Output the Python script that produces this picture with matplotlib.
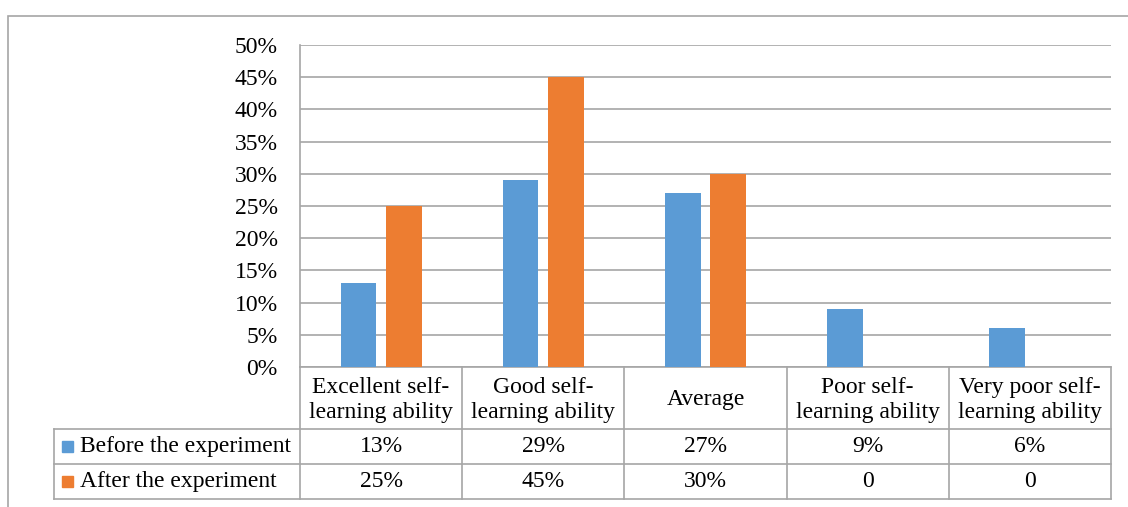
import numpy as np
import matplotlib
matplotlib.use("Agg")
from matplotlib import pyplot as plt
from matplotlib import transforms
from matplotlib.patches import Rectangle

plt.rcParams['font.family'] = ['Liberation Serif', 'DejaVu Serif']

categories = ["Excellent self-\nlearning ability", "Good self-\nlearning ability", "Average",
              "Poor self-\nlearning ability", "Very poor self-\nlearning ability"]
series_names = ["Before the experiment", "After the experiment"]
before = [13, 29, 27, 9, 6]
after = [25, 45, 30, 0, 0]
before_labels = ["13%", "29%", "27%", "9%", "6%"]
after_labels = ["25%", "45%", "30%", "0", "0"]
yticks = [0, 5, 10, 15, 20, 25, 30, 35, 40, 45, 50]

blue = "#5B9BD5"
orange = "#ED7D31"
grid_c = "#A6A6A6"
fs = 17

W, H = 1128, 507
fig = plt.figure(figsize=(W / 100, H / 100), dpi=100)

# outer chart frame
fig.patches.append(Rectangle((8 / W, -0.1), 1.2, (H - 16) / H + 0.1, transform=fig.transFigure,
                             fill=False, edgecolor=grid_c, lw=1.2))

ax = fig.add_axes([300 / W, 140 / H, 811 / W, 322 / H])
x = np.arange(len(categories))
bw = 0.22
ax.bar(x - 0.14, before, bw, color=blue, zorder=3)
ax.bar(x + 0.14, after, bw, color=orange, zorder=3)

ax.set_xlim(-0.5, len(categories) - 0.5)
ax.set_ylim(0, 50)
ax.set_yticks(yticks)
ax.set_yticklabels([f"{v}%" for v in yticks], fontsize=fs)
ax.tick_params(axis='y', length=0, pad=16)
ax.set_xticks([])
ax.yaxis.grid(True, color=grid_c, lw=1.2, zorder=0)
for s in ["top", "right", "bottom"]:
    ax.spines[s].set_visible(False)
ax.spines["left"].set_color(grid_c)
ax.spines["left"].set_linewidth(1.2)

# data table below the axis
tr = transforms.blended_transform_factory(ax.transData, ax.transAxes)
ppu = 811 / len(categories)
x_lab = -0.5 - 246 / ppu
rows_y = [0, -62 / 322, -97 / 322, -132 / 322]
right = len(categories) - 0.5

line_kw = dict(transform=tr, color=grid_c, lw=1.2, clip_on=False)
ax.plot([-0.5, right], [rows_y[0]] * 2, **line_kw)
for yy in rows_y[1:]:
    ax.plot([x_lab, right], [yy] * 2, **line_kw)
for xx in np.arange(-0.5, right + 0.01, 1.0):
    ax.plot([xx, xx], [rows_y[0], rows_y[-1]], **line_kw)
ax.plot([x_lab, x_lab], [rows_y[1], rows_y[-1]], **line_kw)

for i, cat in enumerate(categories):
    ax.text(i, (rows_y[0] + rows_y[1]) / 2 - 2 / 322, cat, transform=tr, ha="center", va="center",
            fontsize=fs, linespacing=1.22, clip_on=False)

for r, (name, color, labels) in enumerate([(series_names[0], blue, before_labels),
                                            (series_names[1], orange, after_labels)]):
    yc = (rows_y[r + 1] + rows_y[r + 2]) / 2
    for i, lab in enumerate(labels):
        ax.text(i, yc, lab, transform=tr, ha="center", va="center", fontsize=fs, clip_on=False)
    ax.text(x_lab + 26 / ppu, yc, name, transform=tr, ha="left", va="center",
            fontsize=fs, clip_on=False)
    ax.add_patch(Rectangle((x_lab + 8 / ppu, yc - 5.5 / 322), 11 / ppu, 11 / 322,
                           transform=tr, color=color, clip_on=False))

fig.savefig("out.png", dpi=100)
